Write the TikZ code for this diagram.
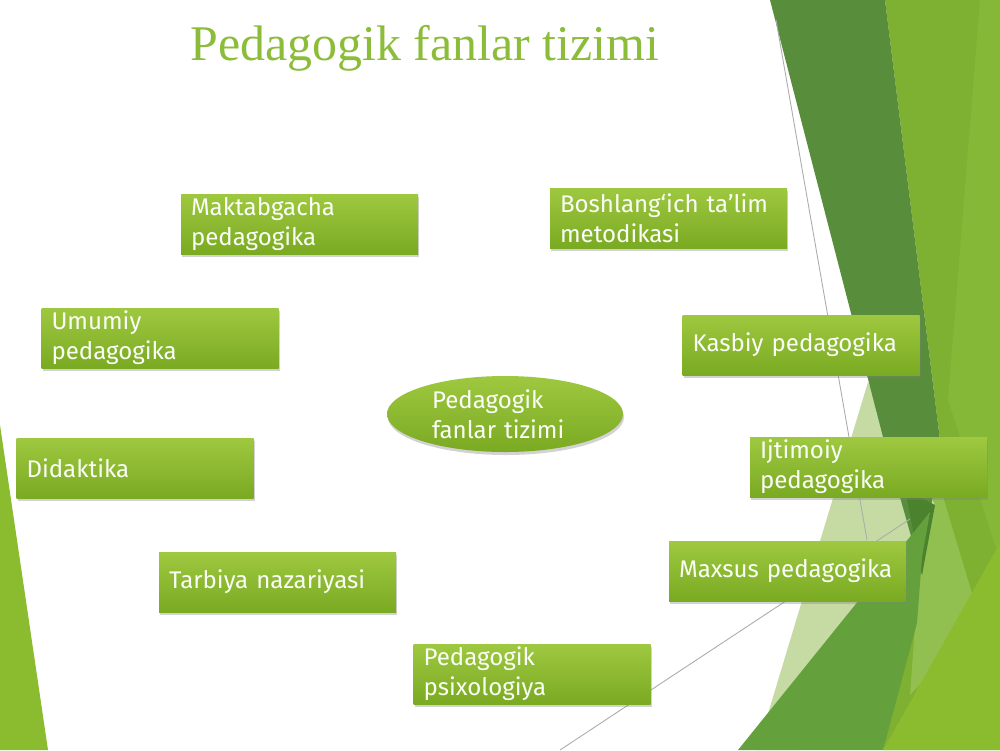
\documentclass[tikz,border=0pt]{standalone}
\usepackage{fontspec}
\setmainfont{Liberation Serif}
\newfontfamily\boxfont{Fira Sans}
\usetikzlibrary{shapes.geometric,shadows}
\definecolor{titlegreen}{RGB}{140,189,58}
\definecolor{boxtop}{RGB}{158,200,64}
\definecolor{boxbottom}{RGB}{122,170,34}
\definecolor{facetdark}{RGB}{88,141,60}
\definecolor{facetdeep}{RGB}{74,130,46}
\definecolor{facetmid}{RGB}{100,161,60}
\definecolor{facetright}{RGB}{126,176,49}
\definecolor{facetlight}{RGB}{134,184,56}
\definecolor{facetlime}{RGB}{139,187,47}
\definecolor{facetpale}{RGB}{197,219,163}
\definecolor{facetband}{RGB}{146,192,80}

\begin{document}
\begin{tikzpicture}
  \tikzstyle{topic}=[rectangle,minimum width=2.37cm,minimum height=0.6cm,text width=2.17cm,inner xsep=0.1cm,inner ysep=0pt,align=left,top color=boxtop,bottom color=boxbottom,text=white!96!boxtop,font=\boxfont\fontsize{6.85}{8.5}\selectfont,drop shadow={shadow xshift=0.01cm,shadow yshift=-0.03cm,opacity=0.35}]
  \tikzstyle{hub}=[ellipse,minimum width=2.36cm,minimum height=0.76cm,text width=1.46cm,inner sep=0pt,align=left,top color=boxtop,bottom color=boxbottom,text=white!96!boxtop,font=\boxfont\fontsize{6.85}{8.5}\selectfont,drop shadow={shadow xshift=0.01cm,shadow yshift=-0.03cm,opacity=0.35}]
  \tikzstyle{facetline}=[gray!65,line width=0.25pt]

  \useasboundingbox (0,0) rectangle (10,7.5);
  \fill [white] (0,0) rectangle (10,7.5);

  % facets on the left
  \fill [facetlime] (0,3.25) -- (0,0) -- (0.48,0) -- cycle;

  % facets on the right
  \fill [facetright] (8.85,7.5) -- (10,7.5) -- (10,0) -- (8.83,0) -- (9.25,1.8) -- (9.40,3.10) -- cycle;
  \fill [facetlight] (9.80,7.5) -- (10,7.5) -- (10,1.9) -- (9.48,3.5) -- cycle;
  \fill [facetband] (9.35,2.8) -- (9.80,1.30) -- (9.10,0.55) -- (9.20,1.93) -- cycle;
  \fill [facetlime] (8.83,0) -- (10,0) -- (10,2.07) -- cycle;
  \fill [facetpale] (8.68,3.68) -- (9.35,2.45) -- (8.00,0) -- (7.57,0) -- cycle;
  \fill [facetdark] (7.70,7.5) -- (8.85,7.5) -- (9.40,3.10) -- (9.22,1.75) -- (8.83,3.13) -- cycle;
  \fill [facetdeep] (9.05,2.6) -- (9.35,2.45) -- (9.22,1.75) -- cycle;
  \fill [facetmid] (7.38,0) -- (9.30,2.38) -- (9.22,1.93) -- (9.17,1.27) -- (8.83,0) -- cycle;

  % thin lines
  \coordinate (l1a) at (7.76,7.30);
  \coordinate (l1b) at (8.67,2.10);
  \coordinate (l2a) at (9.10,2.31);
  \coordinate (l2b) at (5.60,0);
  \draw [facetline] (l1a) -- (l1b);
  \draw [facetline] (l2a) -- (l2b);

  % title
  \node [anchor=base,text=titlegreen,font=\fontsize{14.2}{17}\selectfont,inner sep=0pt] (title) at (4.25,6.89) {Pedagogik fanlar tizimi};

  % blocks round the centre
  \node [topic] (mak) at (2.995,5.26) {Maktabgacha\\pedagogika};
  \node [topic] (bosh) at (6.685,5.32) {Boshlang‘ich ta’lim\\metodikasi};
  \node [topic] (umum) at (1.60,4.12) {Umumiy\\pedagogika};
  \node [topic] (kasb) at (8.01,4.05) {Kasbiy pedagogika};
  \node [topic] (didak) at (1.35,2.82) {Didaktika};
  \node [topic] (ijtim) at (8.685,2.83) {Ijtimoiy\\pedagogika};
  \node [topic] (tarb) at (2.775,1.68) {Tarbiya nazariyasi};
  \node [topic] (maxs) at (7.875,1.79) {Maxsus pedagogika};
  \node [topic] (psix) at (5.32,0.76) {Pedagogik\\psixologiya};

  % the centre
  \node [hub] (tizim) at (5.05,3.36) {Pedagogik\\fanlar tizimi};

\end{tikzpicture}
\end{document}
